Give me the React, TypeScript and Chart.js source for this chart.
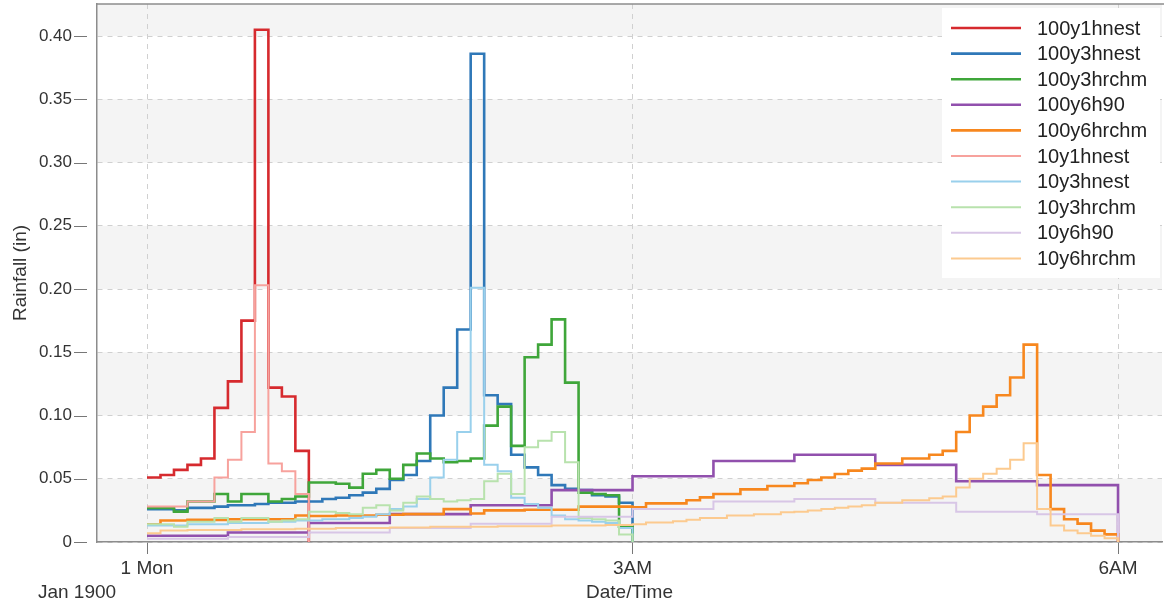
import React, { useEffect, useRef } from 'react';
import { Chart, registerables } from 'chart.js';

Chart.register(...registerables);

const FONT_FAMILY = '"Liberation Sans", Arial, sans-serif';
const TEXT_COLOR = '#333333';

const SERIES_NAMES = [
  '100y1hnest', '100y3hnest', '100y3hrchm', '100y6h90', '100y6hrchm',
  '10y1hnest', '10y3hnest', '10y3hrchm', '10y6h90', '10y6hrchm',
];

const SERIES_COLORS = [
  '#d62a2e', '#2f78b8', '#3fa63a', '#9150ad', '#f7871e',
  '#f7a29d', '#99d0ec', '#b8e2ad', '#d8c6e6', '#fcca8f',
];

const SERIES_WIDTHS = [2.6, 2.6, 2.6, 2.6, 2.6, 2, 2, 2, 2, 2];

// minutes covered by each value of a series
const STEP_MINUTES = [5, 5, 5, 30, 5, 5, 5, 5, 30, 5];

const RAIN_100Y1HNEST = [0.051, 0.053, 0.057, 0.061, 0.066, 0.106, 0.127, 0.175, 0.405, 0.122, 0.115, 0.072];

const RAIN_100Y3HNEST = [
  0.026, 0.026, 0.025, 0.027, 0.027, 0.028, 0.029, 0.029, 0.030, 0.031, 0.031, 0.032,
  0.032, 0.034, 0.035, 0.037, 0.039, 0.042, 0.049, 0.053, 0.064, 0.100, 0.122, 0.168,
  0.386, 0.116, 0.109, 0.069, 0.059, 0.053, 0.045, 0.042, 0.041, 0.037, 0.036, 0.031,
];

const RAIN_100Y3HRCHM = [
  0.027, 0.027, 0.024, 0.032, 0.032, 0.038, 0.032, 0.038, 0.038, 0.032, 0.034, 0.036,
  0.047, 0.047, 0.046, 0.043, 0.054, 0.057, 0.050, 0.061, 0.070, 0.066, 0.063, 0.064,
  0.066, 0.092, 0.107, 0.076, 0.146, 0.156, 0.176, 0.126, 0.039, 0.038, 0.037, 0.012,
];

const RAIN_100Y6H90 = [0.005, 0.0075, 0.015, 0.022, 0.029, 0.041, 0.052, 0.064, 0.069, 0.061, 0.048, 0.045];

const RAIN_100Y6HRCHM = [
  0.014, 0.017, 0.017, 0.0175, 0.0175, 0.0175, 0.018, 0.018, 0.018, 0.018, 0.018, 0.021,
  0.0205, 0.0205, 0.021, 0.021, 0.021, 0.0215, 0.0215, 0.022, 0.022, 0.022, 0.026, 0.026,
  0.0225, 0.025, 0.025, 0.025, 0.0255, 0.0255, 0.0255, 0.0255, 0.028, 0.028, 0.028, 0.028,
  0.0275, 0.0305, 0.0305, 0.0305, 0.033, 0.0353, 0.038, 0.038, 0.0416, 0.0416, 0.0443, 0.0443,
  0.0464, 0.049, 0.051, 0.0537, 0.0564, 0.058, 0.062, 0.062, 0.066, 0.066, 0.069, 0.072,
  0.087, 0.100, 0.107, 0.116, 0.130, 0.156, 0.053, 0.026, 0.018, 0.0145, 0.009, 0.006,
];

const RAIN_10Y1HNEST = [0.028, 0.028, 0.028, 0.032, 0.032, 0.051, 0.065, 0.087, 0.203, 0.062, 0.056, 0.038];

const RAIN_10Y3HNEST = [
  0.013, 0.013, 0.013, 0.014, 0.014, 0.014, 0.015, 0.015, 0.015, 0.016, 0.016, 0.017,
  0.017, 0.018, 0.018, 0.019, 0.020, 0.022, 0.026, 0.028, 0.034, 0.051, 0.065, 0.087,
  0.201, 0.061, 0.056, 0.035, 0.030, 0.027, 0.021, 0.018, 0.017, 0.016, 0.015, 0.011,
];

const RAIN_10Y3HRCHM = [
  0.014, 0.014, 0.012, 0.016, 0.016, 0.019, 0.016, 0.019, 0.019, 0.016, 0.017, 0.018,
  0.024, 0.024, 0.023, 0.022, 0.027, 0.029, 0.025, 0.031, 0.036, 0.034, 0.032, 0.033,
  0.034, 0.048, 0.054, 0.038, 0.075, 0.080, 0.087, 0.063, 0.019, 0.018, 0.017, 0.006,
];

const RAIN_10Y6H90 = [0.0025, 0.004, 0.0075, 0.011, 0.0145, 0.020, 0.026, 0.032, 0.034, 0.031, 0.024, 0.022];

const RAIN_10Y6HRCHM = [
  0.007, 0.009, 0.009, 0.0095, 0.0095, 0.0095, 0.0095, 0.010, 0.010, 0.010, 0.010, 0.0105,
  0.0105, 0.0105, 0.011, 0.011, 0.011, 0.011, 0.0115, 0.0115, 0.0115, 0.012, 0.012, 0.012,
  0.012, 0.012, 0.0125, 0.0125, 0.0125, 0.0125, 0.013, 0.013, 0.013, 0.013, 0.0135, 0.0135,
  0.014, 0.0155, 0.0155, 0.0165, 0.0175, 0.019, 0.019, 0.021, 0.021, 0.022, 0.022, 0.0235,
  0.024, 0.025, 0.026, 0.027, 0.028, 0.029, 0.031, 0.031, 0.033, 0.033, 0.0345, 0.036,
  0.043, 0.050, 0.054, 0.058, 0.065, 0.078, 0.026, 0.013, 0.009, 0.007, 0.005, 0.003,
];

const SERIES_VALUES = [
  RAIN_100Y1HNEST, RAIN_100Y3HNEST, RAIN_100Y3HRCHM, RAIN_100Y6H90, RAIN_100Y6HRCHM,
  RAIN_10Y1HNEST, RAIN_10Y3HNEST, RAIN_10Y3HRCHM, RAIN_10Y6H90, RAIN_10Y6HRCHM,
];

// x axis in minutes from 1 Mon Jan 1900 00:00
const X_TICK_VALUES = [0, 180, 360];
const X_TICK_LABELS = ['1 Mon', '3AM', '6AM'];
const X_SUB_LABEL = 'Jan 1900';
const X_MIN = -18.54;
const X_MAX = 376.3;

const Y_TICKS = [0, 0.05, 0.1, 0.15, 0.2, 0.25, 0.3, 0.35, 0.4];
const Y_MAX = 0.4253;

function toSteps(values: number[], step: number) {
  const pts = values.map((v, i) => ({ x: i * step, y: v }));
  pts.push({ x: values.length * step, y: 0 });
  return pts;
}

const decorPlugin = {
  id: 'decor',
  beforeDraw(chart: any) {
    const { ctx, chartArea: a } = chart;
    const y = chart.scales.y;
    ctx.save();
    ctx.fillStyle = '#f4f4f4';
    for (let i = 0; i < Y_TICKS.length; i += 2) {
      const lo = Y_TICKS[i];
      const hi = i + 1 < Y_TICKS.length ? Y_TICKS[i + 1] : y.max;
      const top = y.getPixelForValue(hi);
      const bot = y.getPixelForValue(lo);
      ctx.fillRect(a.left, top, a.right - a.left, bot - top);
    }
    ctx.restore();
  },
  afterDraw(chart: any) {
    const { ctx, chartArea: a } = chart;
    const y = chart.scales.y;
    const x = chart.scales.x;
    ctx.save();
    // top frame line
    ctx.strokeStyle = '#8c8c8c';
    ctx.lineWidth = 1.5;
    ctx.beginPath();
    ctx.moveTo(a.left, a.top);
    ctx.lineTo(chart.width, a.top);
    ctx.stroke();
    // y tick marks
    ctx.lineWidth = 1;
    ctx.strokeStyle = '#777';
    Y_TICKS.forEach((v) => {
      const py = Math.round(y.getPixelForValue(v)) + 0.5;
      ctx.beginPath();
      ctx.moveTo(a.left - 23, py);
      ctx.lineTo(a.left - 10, py);
      ctx.stroke();
    });
    // sub label under first x tick
    ctx.fillStyle = TEXT_COLOR;
    ctx.font = `19px ${FONT_FAMILY}`;
    ctx.textAlign = 'center';
    ctx.textBaseline = 'middle';
    ctx.fillText(X_SUB_LABEL, x.getPixelForValue(X_TICK_VALUES[0]) - 70, chart.height - 13);
    // legend
    const lx = a.right - 220;
    const ly = a.top + 4;
    ctx.fillStyle = '#ffffff';
    ctx.fillRect(lx, ly, 218, 270);
    ctx.font = `20px ${FONT_FAMILY}`;
    ctx.textAlign = 'left';
    chart.data.datasets.forEach((ds: any, i: number) => {
      const ry = ly + 20 + i * 25.6;
      ctx.strokeStyle = ds.borderColor;
      ctx.lineWidth = ds.borderWidth;
      ctx.beginPath();
      ctx.moveTo(lx + 9, ry);
      ctx.lineTo(lx + 79, ry);
      ctx.stroke();
      ctx.fillStyle = '#222';
      ctx.fillText(ds.label, lx + 95, ry + 1);
    });
    ctx.restore();
  },
};

export default function App() {
  const ref = useRef<HTMLCanvasElement>(null);
  useEffect(() => {
    const canvas = ref.current;
    if (!canvas) return;
    const datasets = SERIES_NAMES.map((name, i) => ({
      label: name,
      data: toSteps(SERIES_VALUES[i], STEP_MINUTES[i]),
      borderColor: SERIES_COLORS[i],
      backgroundColor: SERIES_COLORS[i],
      borderWidth: SERIES_WIDTHS[i],
      pointRadius: 0,
      pointHoverRadius: 0,
      stepped: 'before' as const,
      fill: false,
      order: SERIES_NAMES.length - i,
    }));
    const chart = new Chart(canvas, {
      type: 'line',
      data: { datasets },
      options: {
        animation: false,
        responsive: false,
        layout: { padding: { top: 4, right: 2, left: 0, bottom: 0 } },
        plugins: { legend: { display: false }, tooltip: { enabled: false } },
        scales: {
          x: {
            type: 'linear',
            min: X_MIN,
            max: X_MAX,
            afterBuildTicks: (s: any) => {
              s.ticks = X_TICK_VALUES.map((v) => ({ value: v }));
            },
            afterFit: (s: any) => {
              s.height = 64;
              s.paddingLeft = 0;
              s.paddingRight = 0;
            },
            ticks: {
              autoSkip: false,
              maxRotation: 0,
              padding: 3,
              color: TEXT_COLOR,
              font: { family: FONT_FAMILY, size: 19 },
              callback: (v: any) => X_TICK_LABELS[X_TICK_VALUES.indexOf(Number(v))] ?? '',
            },
            grid: { color: '#d0d0d0', tickColor: '#777', tickLength: 12, drawTicks: true },
            border: { color: '#8c8c8c', width: 1.5, dash: [5, 5] },
            title: {
              display: true,
              text: 'Date/Time',
              color: TEXT_COLOR,
              font: { family: FONT_FAMILY, size: 19 },
              padding: { top: 0, bottom: 2 },
            },
          },
          y: {
            type: 'linear',
            min: 0,
            max: Y_MAX,
            afterBuildTicks: (s: any) => {
              s.ticks = Y_TICKS.map((v) => ({ value: v }));
            },
            afterFit: (s: any) => {
              s.width = 97;
              s.paddingTop = 0;
              s.paddingBottom = 0;
            },
            ticks: {
              padding: 25,
              color: TEXT_COLOR,
              font: { family: FONT_FAMILY, size: 17 },
              callback: (v: any) => (Number(v) === 0 ? '0' : Number(v).toFixed(2)),
            },
            grid: { color: '#d0d0d0', drawTicks: false },
            border: { color: '#8c8c8c', width: 1.5, dash: [5, 5] },
            title: {
              display: true,
              text: 'Rainfall (in)',
              color: TEXT_COLOR,
              font: { family: FONT_FAMILY, size: 19 },
              padding: { top: 9, bottom: 0 },
            },
          },
        },
      },
      plugins: [decorPlugin],
    });
    return () => chart.destroy();
  }, []);
  return (
    <div style={{ position: 'fixed', left: 0, top: 0, width: 1164, height: 606, background: '#fff' }}>
      <canvas ref={ref} width={1164} height={606} style={{ display: 'block' }} />
    </div>
  );
}
